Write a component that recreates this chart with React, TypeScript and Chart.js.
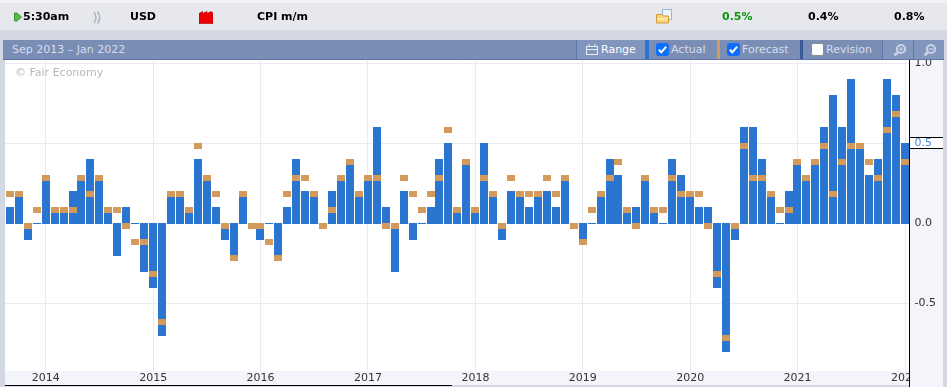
import React, { useEffect, useRef } from "react";
import { Chart, registerables } from "chart.js";

Chart.register(...registerables);

const FIRST_YEAR = 2013;
const FIRST_MONTH = 9;
const actual = [
  0.1, 0.2, -0.1, 0, 0.3, 0.1, 0.1, 0.2, 0.3, 0.4, 0.3, 0.1, -0.2, 0.1, 0, -0.3, -0.4, -0.7, 0.2, 0.2,
  0.1, 0.4, 0.3, 0.1, -0.1, -0.2, 0.2, 0, -0.1, 0, -0.2, 0.1, 0.4, 0.2, 0.2, 0, 0.2, 0.3, 0.4, 0.2,
  0.3, 0.6, 0.1, -0.3, 0.2, -0.1, 0, 0.1, 0.4, 0.5, 0.1, 0.4, 0.1, 0.5, 0.2, -0.1, 0.2, 0.2, 0.1, 0.2,
  0.2, 0.1, 0.3, 0, -0.1, 0, 0.2, 0.4, 0.3, 0.1, 0.1, 0.3, 0.1, 0, 0.4, 0.3, 0.2, 0.1, 0.1, -0.4,
  -0.8, -0.1, 0.6, 0.6, 0.4, 0.2, 0, 0.2, 0.4, 0.3, 0.4, 0.6, 0.8, 0.6, 0.9, 0.5, 0.3, 0.4, 0.9, 0.8,
  0.5,
];
const forecast = [
  0.2, 0.2, 0, 0.1, 0.3, 0.1, 0.1, 0.1, 0.3, 0.2, 0.3, 0.1, 0.1, 0, -0.1, -0.1, -0.3, -0.6, 0.2, 0.2,
  0.1, 0.5, 0.3, 0.2, 0, -0.2, 0.2, 0, 0, -0.1, -0.2, 0.2, 0.3, 0.3, 0.2, 0, 0.1, 0.3, 0.4, 0.2,
  0.3, 0.3, 0, 0, 0.3, 0.2, 0.1, 0.2, 0.3, 0.6, 0.1, 0.4, 0.1, 0.3, 0.2, 0, 0.3, 0.2, 0.2, 0.2,
  0.3, 0.2, 0.3, 0, -0.1, 0.1, 0.2, 0.3, 0.4, 0.1, 0, 0.3, 0.1, 0.1, 0.3, 0.2, 0.2, 0.2, 0, -0.3,
  -0.7, 0, 0.5, 0.3, 0.3, 0.2, 0.1, 0.1, 0.4, 0.3, 0.4, 0.5, 0.2, 0.4, 0.5, 0.5, 0.4, 0.3, 0.6, 0.7,
  0.4,
];
const months = actual.map((_, i) => {
  const t = FIRST_YEAR * 12 + FIRST_MONTH - 1 + i;
  return `${Math.floor(t / 12)}-${String((t % 12) + 1).padStart(2, "0")}`;
});
const yTicks = [-0.5, 0, 0.5, 1];
const latest = 0.5;

const BLUE = "#2a75cf";
const TILE = "#d49a5b";
const GRID = "#e9ebf1";
const GUTTER = "#f3f5fa";
const PAGE = "#d3d8e2";
const FONT = "'DejaVu Sans', sans-serif";

function abs(left: number, top: number, width: number, height: number, background: string, z = 0): React.CSSProperties {
  return { position: "absolute", left, top, width, height, background, zIndex: z };
}

function Label({ x, y = 17, text, color = "#000", bold = true }: { x: number; y?: number; text: string; color?: string; bold?: boolean }) {
  return (
    <div style={{ position: "absolute", left: x, top: y - 8, height: 16, font: `${bold ? "bold " : ""}11px/16px ${FONT}`, color, whiteSpace: "nowrap", zIndex: 3 }}>
      {text}
    </div>
  );
}

function Check({ x, on }: { x: number; on: boolean }) {
  return (
    <svg style={{ position: "absolute", left: x, top: 43, zIndex: 3 }} width="13" height="13" viewBox="0 0 13 13">
      <rect x="0.5" y="0.5" width="12" height="12" rx="2" fill={on ? "#0d6efd" : "#fff"} stroke={on ? "#0d6efd" : "#8a8a8a"} />
      {on && <path d="M2.8 6.8 L5.3 9.3 L10.2 3.6" fill="none" stroke="#fff" strokeWidth="2" />}
    </svg>
  );
}

function Lens({ x, plus }: { x: number; plus: boolean }) {
  return (
    <svg style={{ position: "absolute", left: x, top: 43, zIndex: 3 }} width="14" height="14" viewBox="0 0 14 14">
      <circle cx="8" cy="6" r="4" fill="none" stroke="#c9d2e4" strokeWidth="2.2" />
      <path d="M5 9 L1.5 12.5" stroke="#c9d2e4" strokeWidth="2.6" />
      {plus ? <path d="M6 6 H10 M8 4 V8" stroke="#c9d2e4" strokeWidth="1.2" /> : <path d="M6 6 H10" stroke="#c9d2e4" strokeWidth="1.4" />}
    </svg>
  );
}

export default function App() {
  const ref = useRef<HTMLCanvasElement>(null);

  useEffect(() => {
    document.body.style.margin = "0";
    document.body.style.background = PAGE;
    const tile = document.createElement("canvas");
    tile.width = 8;
    tile.height = 12;
    const tc = tile.getContext("2d")!;
    tc.fillStyle = TILE;
    tc.fillRect(0, 6, 8, 6);

    const snap = {
      id: "snap",
      afterDatasetsUpdate(chart: any) {
        const zero = Math.round(chart.scales.y.getPixelForValue(0));
        chart.data.datasets.forEach((ds: any, d: number) => {
          chart.getDatasetMeta(d).data.forEach((el: any, i: number) => {
            const x = Math.round(el.x - 4.125) + 4;
            el.x = x;
            const y = Math.round(el.y);
            if (ds.type === "bar") {
              const v = ds.data[i];
              el.width = 8;
              if (v < 0) {
                el.base = zero;
                el.y = y + 1;
              } else {
                el.base = zero + 1;
                el.y = v === 0 ? zero : y;
              }
            } else {
              el.y = y;
            }
          });
        });
      },
    };

    const gutter = {
      id: "gutter",
      afterDatasetsDraw(chart: any) {
        const { ctx, chartArea, height } = chart;
        ctx.save();
        ctx.fillStyle = GUTTER;
        ctx.fillRect(chartArea.right, chartArea.top, 943 - chartArea.right, height - chartArea.top);
        const y = Math.round(chart.scales.y.getPixelForValue(latest));
        ctx.fillStyle = "#fff";
        ctx.fillRect(chartArea.right, y - 6, 943 - chartArea.right, 11);
        ctx.fillStyle = "#000";
        ctx.fillRect(chartArea.right, y - 6, 943 - chartArea.right, 1);
        ctx.fillRect(chartArea.right, y + 5, 943 - chartArea.right, 1);
        ctx.restore();
      },
    };

    const chart = new Chart(ref.current!, {
      type: "bar",
      data: {
        labels: months,
        datasets: [
          { type: "line", label: "Forecast", data: forecast, showLine: false, pointStyle: tile as any, pointRadius: 3, pointHoverRadius: 3, order: 0 },
          { type: "bar", label: "Actual", data: actual, backgroundColor: BLUE, barThickness: 8, minBarLength: 1, inflateAmount: 0, order: 1 },
        ],
      },
      options: {
        animation: false,
        responsive: false,
        events: [],
        layout: { padding: { left: 5.5, top: 60, right: 0, bottom: 2 } },
        plugins: { legend: { display: false }, tooltip: { enabled: false } },
        scales: {
          x: {
            type: "category",
            offset: true,
            grid: {
              offset: false,
              drawTicks: false,
              lineWidth: 1,
              color: (c: any) => (months[c.index]?.endsWith("-01") ? GRID : "transparent"),
            },
            border: { display: false },
            afterFit: (s: any) => { s.height = 14; },
            ticks: {
              autoSkip: false,
              maxRotation: 0,
              minRotation: 0,
              padding: 1,
              color: "#333",
              font: { family: "'DejaVu Sans'", size: 11 },
              callback: (_: any, i: number) => (months[i].endsWith("-01") ? months[i].slice(0, 4) : ""),
            },
          },
          y: {
            position: "right",
            min: -0.925,
            max: 1.01875,
            afterBuildTicks: (s: any) => { s.ticks = yTicks.map((value) => ({ value })); },
            afterFit: (s: any) => { s.width = 37.5; },
            grid: { color: GRID, drawTicks: false, lineWidth: 1 },
            border: { display: false },
            ticks: {
              z: 1,
              padding: 5,
              color: (c: any) => (c.tick?.value === latest ? "#4a86e0" : "#333"),
              font: { family: "'DejaVu Sans'", size: 11 },
              callback: (v: any) => Number(v).toFixed(1),
            },
          },
        },
      },
      plugins: [snap, gutter],
    } as any);
    return () => chart.destroy();
  }, []);

  return (
    <div style={{ position: "relative", width: 947, height: 387, overflow: "hidden", background: PAGE, fontFamily: FONT }}>
      <div style={abs(0, 0, 947, 3, "#f1f2f6")} />
      <div style={abs(0, 3, 947, 27, "#e6e8ee")} />

      <svg style={{ position: "absolute", left: 14, top: 12, zIndex: 3 }} width="8" height="10">
        <path d="M0.5 1 H3 L7.5 5 L3 9 H0.5 Z" fill="#58b848" stroke="#3c9a30" />
      </svg>
      <Label x={23} text="5:30am" />
      <svg style={{ position: "absolute", left: 92, top: 11, zIndex: 3 }} width="10" height="13">
        <path d="M2 1 Q6 6.5 2 12 M5.5 0.5 Q10 6.5 5.5 12.5" fill="none" stroke="#b4b7bf" strokeWidth="1.6" />
      </svg>
      <Label x={130} text="USD" />
      <svg style={{ position: "absolute", left: 199, top: 11, zIndex: 3 }} width="14" height="13">
        <path d="M0 2.5 L3.5 0.5 V2.5 L8 0.5 V2.5 L12 0.5 L14 2 V12.5 H0 Z" fill="#ee0000" stroke="#a00000" strokeWidth="0.6" />
      </svg>
      <Label x={257} text="CPI m/m" />
      <svg style={{ position: "absolute", left: 656, top: 9, zIndex: 3 }} width="17" height="15">
        <rect x="6.5" y="0.5" width="9" height="10" fill="#eef3fb" stroke="#9db4d6" />
        <path d="M0.5 5.5 H6 L7.5 7 H12.5 V14 H0.5 Z" fill="#f7d77c" stroke="#d09a3c" />
        <path d="M1 10 H12" stroke="#fff3c4" />
      </svg>
      <Label x={722} text="0.5%" color="#0a960a" />
      <Label x={808} text="0.4%" />
      <Label x={894} text="0.8%" />

      {/* title bar */}
      <div style={abs(3, 40, 941, 19, "#7a8db5", 2)} />
      <div style={abs(3, 59, 941, 1, "#5d76a9", 2)} />
      <Label x={12} y={50} text="Sep 2013 – Jan 2022" color="#d6ddec" bold={false} />
      <div style={abs(576, 40, 1, 19, "#5d76a9", 2)} />
      <div style={abs(577, 40, 68, 19, "#8295bd", 2)} />
      <svg style={{ position: "absolute", left: 586, top: 44, zIndex: 3 }} width="12" height="11">
        <rect x="0.5" y="2.5" width="11" height="8" fill="none" stroke="#e8ecf4" />
        <path d="M0.5 5.5 H11.5 M3 0 V3 M9 0 V3" stroke="#e8ecf4" />
      </svg>
      <Label x={601} y={50} text="Range" color="#ffffff" bold={false} />
      <div style={abs(645, 40, 4, 19, BLUE, 2)} />
      <Check x={656} on />
      <Label x={671} y={50} text="Actual" color="#d6ddec" bold={false} />
      <div style={abs(717, 40, 3, 19, TILE, 2)} />
      <Check x={727} on />
      <Label x={742} y={50} text="Forecast" color="#d6ddec" bold={false} />
      <div style={abs(800, 40, 3, 19, "#3a5a96", 2)} />
      <Check x={811} on={false} />
      <Label x={826} y={50} text="Revision" color="#d6ddec" bold={false} />
      <div style={abs(882, 40, 1, 19, "#5d76a9", 2)} />
      <div style={abs(883, 40, 30, 19, "#8295bd", 2)} />
      <Lens x={893} plus />
      <div style={abs(913, 40, 1, 19, "#5d76a9", 2)} />
      <div style={abs(914, 40, 30, 19, "#8295bd", 2)} />
      <Lens x={923} plus={false} />

      {/* chart surfaces */}
      <div style={abs(5, 60, 905, 311, "#fff")} />
      <div style={abs(5, 371, 905, 14, GUTTER)} />
      <div style={abs(5, 385, 447, 1, "#000")} />
      <canvas ref={ref} width={947} height={387} style={{ position: "absolute", left: 0, top: 0, width: 947, height: 387, zIndex: 1 }} />
      <div style={abs(909, 60, 1, 327, "#000", 2)} />
      <Label x={15} y={73} text="© Fair Economy" color="#b8b8b8" bold={false} />
    </div>
  );
}
